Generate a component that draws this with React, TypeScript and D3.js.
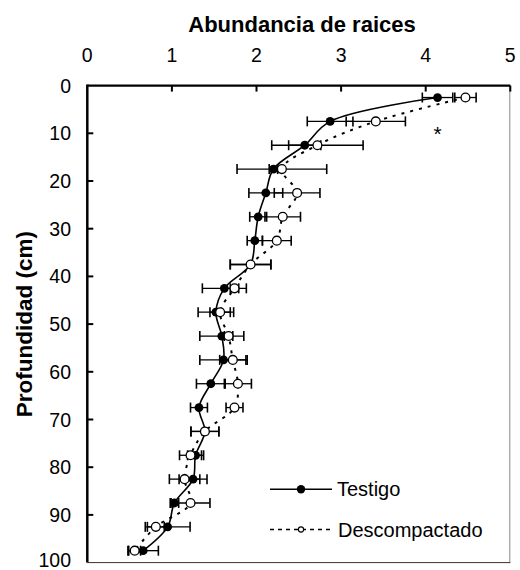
import React from "react";
import * as d3 from "d3";

const depths = [2.5, 7.5, 12.5, 17.5, 22.5, 27.5, 32.5, 37.5, 42.5, 47.5, 52.5, 57.5, 62.5, 67.5, 72.5, 77.5, 82.5, 87.5, 92.5, 97.5];
const testigo = [4.14, 2.87, 2.57, 2.2, 2.11, 2.02, 1.98, 1.93, 1.62, 1.52, 1.59, 1.61, 1.46, 1.32, 1.39, 1.28, 1.25, 1.03, 0.95, 0.66];
const testigoErr = [0.18, 0.27, 0.19, 0.05, 0.2, 0.1, 0.09, 0.24, 0.26, 0.21, 0.26, 0.28, 0.17, 0.1, 0.165, 0.095, 0.165, 0.05, 0.265, 0.18];
const descompactado = [4.47, 3.41, 2.72, 2.3, 2.48, 2.31, 2.24, 1.93, 1.74, 1.57, 1.67, 1.72, 1.78, 1.74, 1.39, 1.22, 1.15, 1.22, 0.81, 0.56];
const descompactadoErr = [0.126, 0.35, 0.54, 0.53, 0.27, 0.21, 0.17, 0.24, 0.05, 0.12, 0.05, 0.155, 0.16, 0.1, 0.165, 0.13, 0.18, 0.23, 0.1, 0.07];
const xTicks = [0, 1, 2, 3, 4, 5];
const yTicks = [0, 10, 20, 30, 40, 50, 60, 70, 80, 90, 100];
const xTitle = "Abundancia de raices";
const yTitle = "Profundidad (cm)";
const seriesNames = ["Testigo", "Descompactado"];
const annotation = "*";
const annotationPos = { v: 4.14, depth: 9 };

const FONT = "'Liberation Sans', Arial, sans-serif";

export default function App() {
  const x = d3.scaleLinear().domain([0, 5]).range([87.3, 510.3]);
  const y = d3.scaleLinear().domain([0, 100]).range([85.6, 562.6]);
  const [x0, x1] = x.range();
  const [y0, y1] = y.range();

  type P = { v: number; d: number; e: number };
  const tData: P[] = depths.map((d, i) => ({ d, v: testigo[i], e: testigoErr[i] }));
  const dData: P[] = depths.map((d, i) => ({ d, v: descompactado[i], e: descompactadoErr[i] }));

  const line = d3
    .line<P>()
    .x((p) => x(p.v))
    .y((p) => y(p.d))
    .curve(d3.curveCatmullRom.alpha(0.5));

  const errBars = (data: P[], key: string) =>
    data.map((p, i) => {
      const yy = y(p.d);
      const xa = x(p.v - p.e);
      const xb = x(p.v + p.e);
      return (
        <g key={key + i} stroke="#000" strokeWidth={1.3}>
          <line x1={xa} x2={xb} y1={yy} y2={yy} />
          <line x1={xa} x2={xa} y1={yy - 5} y2={yy + 5} strokeWidth={1.6} />
          <line x1={xb} x2={xb} y1={yy - 5} y2={yy + 5} strokeWidth={1.6} />
        </g>
      );
    });

  return (
    <svg width={520} height={570} style={{ position: "absolute", left: 0, top: 0, background: "#fff" }}>
      <rect x={0} y={0} width={520} height={570} fill="#fff" />
      {/* title */}
      <text x={302} y={32} textAnchor="middle" fontFamily={FONT} fontWeight="bold" fontSize={22}>
        {xTitle}
      </text>
      <text
        transform={`translate(31.5, ${(y0 + y1) / 2}) rotate(-90)`}
        textAnchor="middle"
        fontFamily={FONT}
        fontWeight="bold"
        fontSize={22.5}
      >
        {yTitle}
      </text>

      {/* frame */}
      <line x1={x1 - 0.5} x2={x1 - 0.5} y1={y0} y2={y1} stroke="#888" strokeWidth={1} />
      <line x1={x0} x2={x1} y1={y1} y2={y1} stroke="#333" strokeWidth={1} />

      {/* top axis */}
      <line x1={x0} x2={x1} y1={y0} y2={y0} stroke="#000" strokeWidth={2.2} />
      {xTicks.map((t) => (
        <g key={"xt" + t}>
          {t > 0 && <line x1={x(t)} x2={x(t)} y1={y0} y2={y0 + 6} stroke="#000" strokeWidth={2} />}
          <text x={x(t)} y={61.5} textAnchor="middle" fontFamily={FONT} fontSize={19.5}>
            {t}
          </text>
        </g>
      ))}

      {/* left axis */}
      <line x1={x0} x2={x0} y1={y0 - 1} y2={y1} stroke="#000" strokeWidth={2.5} />
      {yTicks.map((t) => (
        <g key={"yt" + t}>
          {t > 0 && t < 100 && <line x1={x0} x2={x0 + 6} y1={y(t)} y2={y(t)} stroke="#000" strokeWidth={2} />}
          <text x={71} y={Math.min(y(t) + 7, 566.5)} textAnchor="end" fontFamily={FONT} fontSize={19.5}>
            {t}
          </text>
        </g>
      ))}

      {/* Testigo */}
      <path d={line(tData) || ""} fill="none" stroke="#000" strokeWidth={1.6} />
      {errBars(tData, "te")}
      {tData.map((p, i) => (
        <circle key={"tc" + i} cx={x(p.v)} cy={y(p.d)} r={4.4} fill="#000" />
      ))}

      {/* Descompactado */}
      <path d={line(dData) || ""} fill="none" stroke="#000" strokeWidth={2} strokeDasharray="3,6" />
      {errBars(dData, "de")}
      {dData.map((p, i) => (
        <circle key={"dc" + i} cx={x(p.v)} cy={y(p.d)} r={4.4} fill="#fff" stroke="#000" strokeWidth={1.3} />
      ))}

      {/* annotation */}
      <text x={x(annotationPos.v)} y={y(annotationPos.depth) + 12} textAnchor="middle" fontFamily={FONT} fontSize={21}>
        {annotation}
      </text>

      {/* legend */}
      <g>
        <line x1={270} x2={332} y1={489.3} y2={489.3} stroke="#000" strokeWidth={1.6} />
        <circle cx={301} cy={489.3} r={4.2} fill="#000" />
        <text x={337} y={496.3} fontFamily={FONT} fontSize={20}>
          {seriesNames[0]}
        </text>
        <line x1={270} x2={332} y1={529.5} y2={529.5} stroke="#000" strokeWidth={1.6} strokeDasharray="4,4" />
        <circle cx={301} cy={529.5} r={2.6} fill="#fff" stroke="#000" strokeWidth={1.1} />
        <text x={338} y={536.5} fontFamily={FONT} fontSize={20}>
          {seriesNames[1]}
        </text>
      </g>
    </svg>
  );
}
